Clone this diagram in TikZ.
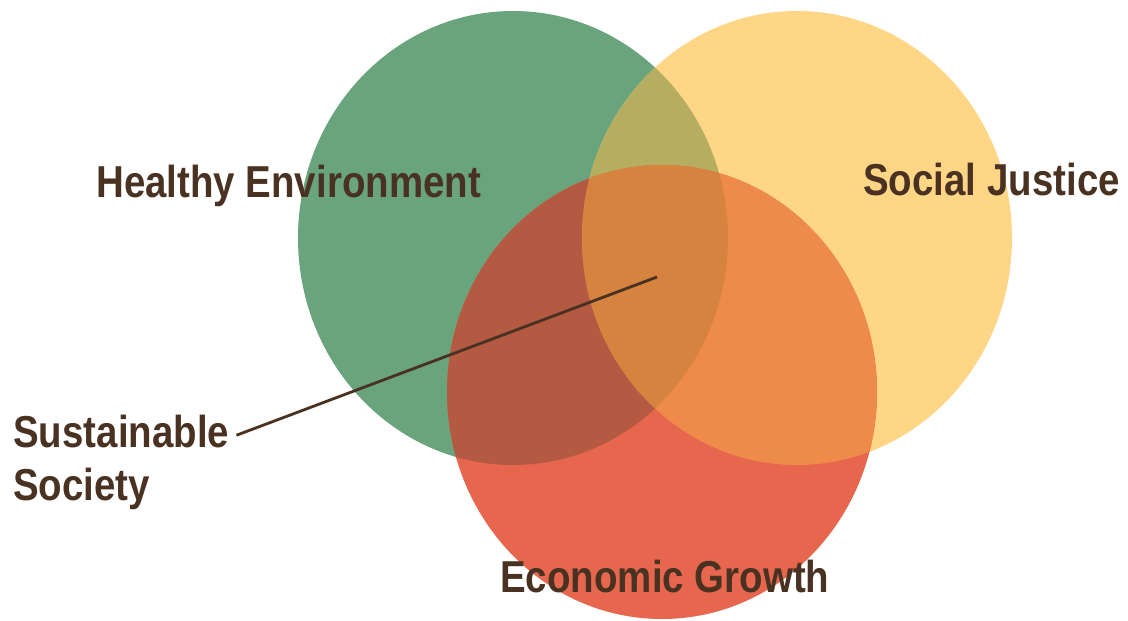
\documentclass[tikz,border=0pt]{standalone}
\usepackage{fontspec}
\newfontfamily\vennfont[FakeStretch=0.86]{Liberation Sans}
\usetikzlibrary{positioning,calc}

\definecolor{envgreen}{HTML}{69A47C}
\definecolor{justyellow}{HTML}{FED686}
\definecolor{econred}{HTML}{E6664E}
\definecolor{envjust}{HTML}{B5AE60}
\definecolor{envecon}{HTML}{B45A42}
\definecolor{justecon}{HTML}{EE8B4B}
\definecolor{allthree}{HTML}{D6833F}
\definecolor{labelbrown}{HTML}{4A3222}

\tikzset{
  vennlabel/.style={text=labelbrown,inner sep=0pt,anchor=base west,
    font=\vennfont\bfseries\fontsize{31.8}{38}\selectfont},
  leader/.style={draw=labelbrown,line width=2pt}
}

\begin{document}
\begin{tikzpicture}[x=0.025cm,y=-0.025cm]
\useasboundingbox (0,0) rectangle (1128,620);

% Centres of the three sets
\coordinate (env) at (513,238);
\coordinate (just) at (797,238);
\coordinate (econ) at (662,392);
\def\rx{215}
\def\ry{227}

% Plain sets
\fill[envgreen] (env) ellipse [x radius=\rx, y radius=\ry];
\fill[justyellow] (just) ellipse [x radius=\rx, y radius=\ry];
\fill[econred] (econ) ellipse [x radius=\rx, y radius=\ry];

% Pairwise overlaps
\begin{scope}
  \clip (env) ellipse [x radius=\rx, y radius=\ry];
  \fill[envjust] (just) ellipse [x radius=\rx, y radius=\ry];
  \fill[envecon] (econ) ellipse [x radius=\rx, y radius=\ry];
\end{scope}
\begin{scope}
  \clip (just) ellipse [x radius=\rx, y radius=\ry];
  \fill[justecon] (econ) ellipse [x radius=\rx, y radius=\ry];
  % Centre, all three
  \clip (econ) ellipse [x radius=\rx, y radius=\ry];
  \fill[allthree] (env) ellipse [x radius=\rx, y radius=\ry];
\end{scope}

% Labels
\node[vennlabel] (envlabel) at (96,197) {Healthy Environment};
\node[vennlabel] (justlabel) at (863,195) {Social Justice};
\node[vennlabel] (econlabel) at (500,592) {Economic Growth};
\node[vennlabel] (sust) at (13,447) {Sustainable};
\node[vennlabel] (soc) at (13,500) {Society};

% Pointer to the middle
\coordinate (core) at (657,277);
\draw[leader] (core) -- ([xshift=5pt,yshift=-3pt]sust.east);
\end{tikzpicture}
\end{document}
